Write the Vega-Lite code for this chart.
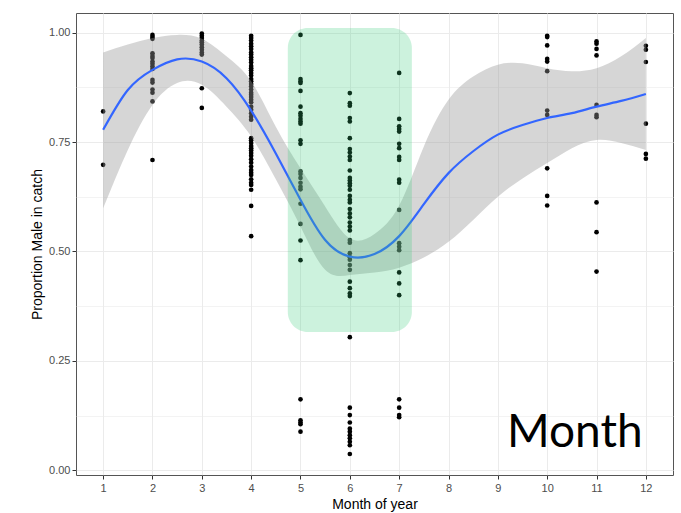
{
  "$schema": "https://vega.github.io/schema/vega-lite/v6.json",
  "width": 597,
  "height": 462,
  "autosize": {"type": "none"},
  "padding": {"left": 76, "top": 13, "right": 8, "bottom": 38},
  "background": "white",
  "config": {
    "view": {"stroke": "#555555", "strokeWidth": 1},
    "font": "Liberation Sans"
  },
  "datasets": {
    "pts": [
      {"m":1,"p":0.820},{"m":1,"p":0.698},
      {"m":2,"p":0.995},{"m":2,"p":0.990},{"m":2,"p":0.986},{"m":2,"p":0.953},{"m":2,"p":0.947},{"m":2,"p":0.942},{"m":2,"p":0.934},{"m":2,"p":0.929},{"m":2,"p":0.923},{"m":2,"p":0.917},{"m":2,"p":0.892},{"m":2,"p":0.886},{"m":2,"p":0.870},{"m":2,"p":0.863},{"m":2,"p":0.843},{"m":2,"p":0.709},
      {"m":3,"p":0.998},{"m":3,"p":0.993},{"m":3,"p":0.988},{"m":3,"p":0.982},{"m":3,"p":0.978},{"m":3,"p":0.973},{"m":3,"p":0.967},{"m":3,"p":0.961},{"m":3,"p":0.955},{"m":3,"p":0.950},{"m":3,"p":0.873},{"m":3,"p":0.828},
      {"m":4,"p":0.993},{"m":4,"p":0.988},{"m":4,"p":0.982},{"m":4,"p":0.975},{"m":4,"p":0.969},{"m":4,"p":0.963},{"m":4,"p":0.955},{"m":4,"p":0.950},{"m":4,"p":0.944},{"m":4,"p":0.938},{"m":4,"p":0.932},{"m":4,"p":0.924},{"m":4,"p":0.919},{"m":4,"p":0.914},{"m":4,"p":0.908},{"m":4,"p":0.902},{"m":4,"p":0.894},{"m":4,"p":0.889},{"m":4,"p":0.883},{"m":4,"p":0.877},{"m":4,"p":0.870},{"m":4,"p":0.863},{"m":4,"p":0.858},{"m":4,"p":0.853},{"m":4,"p":0.847},{"m":4,"p":0.841},{"m":4,"p":0.831},{"m":4,"p":0.824},{"m":4,"p":0.816},{"m":4,"p":0.808},{"m":4,"p":0.801},{"m":4,"p":0.759},{"m":4,"p":0.754},{"m":4,"p":0.748},{"m":4,"p":0.741},{"m":4,"p":0.736},{"m":4,"p":0.731},{"m":4,"p":0.725},{"m":4,"p":0.719},{"m":4,"p":0.711},{"m":4,"p":0.703},{"m":4,"p":0.694},{"m":4,"p":0.686},{"m":4,"p":0.680},{"m":4,"p":0.675},{"m":4,"p":0.665},{"m":4,"p":0.657},{"m":4,"p":0.652},{"m":4,"p":0.641},{"m":4,"p":0.604},{"m":4,"p":0.535},
      {"m":5,"p":0.995},{"m":5,"p":0.894},{"m":5,"p":0.889},{"m":5,"p":0.885},{"m":5,"p":0.867},{"m":5,"p":0.831},{"m":5,"p":0.816},{"m":5,"p":0.810},{"m":5,"p":0.803},{"m":5,"p":0.797},{"m":5,"p":0.792},{"m":5,"p":0.754},{"m":5,"p":0.746},{"m":5,"p":0.683},{"m":5,"p":0.677},{"m":5,"p":0.668},{"m":5,"p":0.657},{"m":5,"p":0.648},{"m":5,"p":0.642},{"m":5,"p":0.609},{"m":5,"p":0.563},{"m":5,"p":0.525},{"m":5,"p":0.480},{"m":5,"p":0.162},{"m":5,"p":0.114},{"m":5,"p":0.109},{"m":5,"p":0.105},{"m":5,"p":0.088},
      {"m":6,"p":0.862},{"m":6,"p":0.839},{"m":6,"p":0.833},{"m":6,"p":0.805},{"m":6,"p":0.797},{"m":6,"p":0.759},{"m":6,"p":0.734},{"m":6,"p":0.726},{"m":6,"p":0.717},{"m":6,"p":0.709},{"m":6,"p":0.685},{"m":6,"p":0.668},{"m":6,"p":0.662},{"m":6,"p":0.656},{"m":6,"p":0.650},{"m":6,"p":0.641},{"m":6,"p":0.627},{"m":6,"p":0.618},{"m":6,"p":0.612},{"m":6,"p":0.597},{"m":6,"p":0.587},{"m":6,"p":0.578},{"m":6,"p":0.566},{"m":6,"p":0.557},{"m":6,"p":0.548},{"m":6,"p":0.526},{"m":6,"p":0.520},{"m":6,"p":0.496},{"m":6,"p":0.487},{"m":6,"p":0.481},{"m":6,"p":0.469},{"m":6,"p":0.458},{"m":6,"p":0.431},{"m":6,"p":0.416},{"m":6,"p":0.404},{"m":6,"p":0.398},{"m":6,"p":0.304},{"m":6,"p":0.143},{"m":6,"p":0.126},{"m":6,"p":0.109},{"m":6,"p":0.095},{"m":6,"p":0.088},{"m":6,"p":0.080},{"m":6,"p":0.073},{"m":6,"p":0.065},{"m":6,"p":0.057},{"m":6,"p":0.037},
      {"m":7,"p":0.908},{"m":7,"p":0.803},{"m":7,"p":0.786},{"m":7,"p":0.780},{"m":7,"p":0.774},{"m":7,"p":0.746},{"m":7,"p":0.736},{"m":7,"p":0.716},{"m":7,"p":0.709},{"m":7,"p":0.664},{"m":7,"p":0.657},{"m":7,"p":0.595},{"m":7,"p":0.519},{"m":7,"p":0.511},{"m":7,"p":0.503},{"m":7,"p":0.452},{"m":7,"p":0.427},{"m":7,"p":0.400},{"m":7,"p":0.162},{"m":7,"p":0.143},{"m":7,"p":0.126},{"m":7,"p":0.121},
      {"m":10,"p":0.993},{"m":10,"p":0.990},{"m":10,"p":0.971},{"m":10,"p":0.940},{"m":10,"p":0.934},{"m":10,"p":0.912},{"m":10,"p":0.822},{"m":10,"p":0.812},{"m":10,"p":0.690},{"m":10,"p":0.627},{"m":10,"p":0.605},
      {"m":11,"p":0.980},{"m":11,"p":0.975},{"m":11,"p":0.963},{"m":11,"p":0.948},{"m":11,"p":0.835},{"m":11,"p":0.812},{"m":11,"p":0.807},{"m":11,"p":0.612},{"m":11,"p":0.544},{"m":11,"p":0.454},
      {"m":12,"p":0.970},{"m":12,"p":0.961},{"m":12,"p":0.933},{"m":12,"p":0.792},{"m":12,"p":0.723},{"m":12,"p":0.712}
    ],
    "fit": [
      {"m":1,"fit":0.778,"lo":0.599,"hi":0.955},
      {"m":1.5,"fit":0.869,"lo":0.732,"hi":0.973},
      {"m":2,"fit":0.915,"lo":0.835,"hi":0.988},
      {"m":2.5,"fit":0.939,"lo":0.885,"hi":0.995},
      {"m":3,"fit":0.934,"lo":0.881,"hi":0.986},
      {"m":3.5,"fit":0.896,"lo":0.831,"hi":0.946},
      {"m":4,"fit":0.822,"lo":0.763,"hi":0.889},
      {"m":4.5,"fit":0.724,"lo":0.665,"hi":0.785},
      {"m":5,"fit":0.618,"lo":0.557,"hi":0.690},
      {"m":5.5,"fit":0.526,"lo":0.458,"hi":0.603},
      {"m":6,"fit":0.488,"lo":0.446,"hi":0.530},
      {"m":6.5,"fit":0.494,"lo":0.452,"hi":0.540},
      {"m":7,"fit":0.535,"lo":0.463,"hi":0.605},
      {"m":7.5,"fit":0.608,"lo":0.486,"hi":0.740},
      {"m":8,"fit":0.679,"lo":0.522,"hi":0.847},
      {"m":8.5,"fit":0.729,"lo":0.572,"hi":0.900},
      {"m":9,"fit":0.767,"lo":0.625,"hi":0.927},
      {"m":9.5,"fit":0.789,"lo":0.667,"hi":0.930},
      {"m":10,"fit":0.805,"lo":0.702,"hi":0.919},
      {"m":10.5,"fit":0.816,"lo":0.736,"hi":0.912},
      {"m":11,"fit":0.831,"lo":0.755,"hi":0.919},
      {"m":11.5,"fit":0.844,"lo":0.748,"hi":0.946},
      {"m":12,"fit":0.860,"lo":0.732,"hi":0.988}
    ]
  },
  "layer": [
    {
      "data": {"name": "pts"},
      "mark": {"type": "circle", "size": 22, "color": "black", "opacity": 1},
      "encoding": {
        "x": {
          "field": "m", "type": "quantitative",
          "scale": {"domain": [0.45, 12.55], "nice": false, "zero": false},
          "axis": {
            "values": [1,2,3,4,5,6,7,8,9,10,11,12],
            "format": "d",
            "grid": true, "gridColor": "#ebebeb", "gridWidth": 1,
            "domain": false,
            "tickColor": "#333333", "tickSize": 4,
            "labelColor": "#4d4d4d", "labelFontSize": 11, "labelPadding": 3,
            "title": "Month of year", "titleFontSize": 14, "titleFontWeight": "normal",
            "titleColor": "black", "titlePadding": 4
          }
        },
        "y": {
          "field": "p", "type": "quantitative",
          "scale": {"domain": [-0.011, 1.045], "nice": false, "zero": false},
          "axis": {
            "values": [0, 0.125, 0.25, 0.375, 0.5, 0.625, 0.75, 0.875, 1],
            "labelExpr": "(datum.value * 4) % 1 == 0 ? format(datum.value, '.2f') : ''",
            "grid": true, "gridColor": "#ebebeb",
            "gridWidth": {"condition": {"test": "(datum.value * 4) % 1 != 0", "value": 0.6}, "value": 1},
            "domain": false,
            "tickColor": {"condition": {"test": "(datum.value * 4) % 1 != 0", "value": "transparent"}, "value": "#333333"},
            "tickSize": 4,
            "labelColor": "#4d4d4d", "labelFontSize": 11, "labelPadding": 2,
            "title": "Proportion Male in catch", "titleFontSize": 14, "titleFontWeight": "normal",
            "titleColor": "black", "titlePadding": 4
          }
        }
      }
    },
    {
      "data": {"name": "fit"},
      "mark": {"type": "area", "color": "#999999", "opacity": 0.4, "interpolate": "natural"},
      "encoding": {
        "x": {"field": "m", "type": "quantitative"},
        "y": {"field": "lo", "type": "quantitative"},
        "y2": {"field": "hi"}
      }
    },
    {
      "data": {"name": "fit"},
      "mark": {"type": "line", "color": "#3366FF", "strokeWidth": 2.2, "interpolate": "natural"},
      "encoding": {
        "x": {"field": "m", "type": "quantitative"},
        "y": {"field": "fit", "type": "quantitative"}
      }
    },
    {
      "data": {"values": [{}]},
      "mark": {"type": "rect", "color": "#33cc77", "opacity": 0.25, "cornerRadius": 20},
      "encoding": {
        "x": {"datum": 4.743, "type": "quantitative"},
        "x2": {"datum": 7.257},
        "y": {"datum": 0.316, "type": "quantitative"},
        "y2": {"datum": 1.011}
      }
    },
    {
      "data": {"values": [{}]},
      "mark": {"type": "text", "text": "Month", "font": "Lato", "fontSize": 46, "align": "center", "baseline": "alphabetic", "color": "black"},
      "encoding": {
        "x": {"datum": 10.56, "type": "quantitative"},
        "y": {"datum": 0.053, "type": "quantitative"}
      }
    }
  ]
}
